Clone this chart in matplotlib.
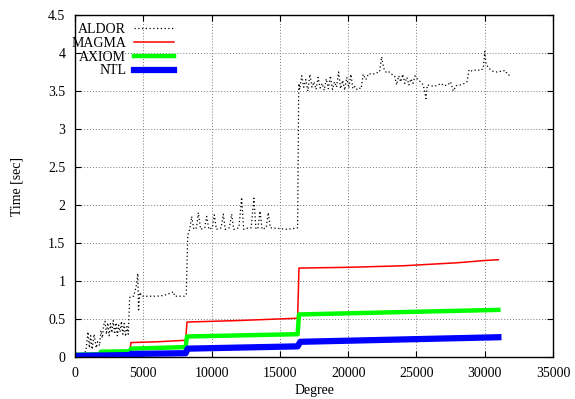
import matplotlib
matplotlib.use("Agg")
import matplotlib.pyplot as plt

# ---- data ----
aldor_x = [0, 300, 600, 800, 950, 1050, 1150, 1250, 1400, 1550, 1650, 1800, 1900, 2000,
           2100, 2200, 2300, 2400, 2500, 2600, 2700, 2800, 2900, 3000, 3100, 3200, 3300,
           3400, 3500, 3600, 3700, 3800, 3900, 4000, 4100, 4300, 4500, 4600, 4650, 4750,
           4900, 5500, 6000, 6500, 7000, 7200, 7300, 8000, 8150, 8250, 8400, 8540, 8700,
           8900, 9030, 9200, 9500, 9640, 9800, 10050, 10200, 10350, 10700, 10860, 11000,
           11300, 11470, 11620, 12000, 12200, 12350, 12700, 12900, 13100, 13250, 13400,
           13550, 13700, 14000, 14150, 14300, 15000, 15500, 16000, 16300, 16384,
           16450, 16600, 16750, 16900, 17050, 17200, 17350, 17500, 17650, 17800, 17950,
           18100, 18250, 18400, 18550, 18700, 18850, 19000, 19150, 19300, 19450, 19600,
           19750, 19900, 20050, 20200, 20350, 20500, 20650, 20800, 20950, 21100, 21300,
           21500, 21800, 22100, 22300, 22450, 22600, 22800, 23000, 23200, 23400, 23550,
           23700, 23850, 24000, 24150, 24300, 24450, 24600, 24750, 24900, 25100, 25300,
           25500, 25700, 25800, 26000, 26300, 26600, 26800, 27000, 27300, 27500, 27700,
           27900, 28200, 28500, 28700, 28850, 29100, 29400, 29700, 29900, 30000, 30100,
           30300, 30600, 30900, 31200, 31500, 31650, 31900]
aldor_y = [0.01, 0.02, 0.03, 0.08, 0.33, 0.12, 0.28, 0.10, 0.30, 0.12, 0.20, 0.15, 0.35, 0.25,
           0.42, 0.47, 0.30, 0.45, 0.28, 0.44, 0.32, 0.48, 0.30, 0.45, 0.28, 0.42, 0.33,
           0.47, 0.30, 0.44, 0.27, 0.40, 0.30, 0.78, 0.80, 0.80, 0.95, 1.10, 0.60, 0.85,
           0.80, 0.80, 0.80, 0.81, 0.84, 0.86, 0.80, 0.80, 0.82, 1.60, 1.68, 1.85, 1.68,
           1.70, 1.90, 1.68, 1.70, 1.85, 1.68, 1.70, 1.87, 1.68, 1.70, 1.88, 1.68,
           1.70, 1.88, 1.68, 1.70, 2.10, 1.68, 1.70, 1.70, 2.09, 1.68, 1.70,
           1.92, 1.68, 1.70, 1.90, 1.70, 1.69, 1.68, 1.69, 1.70, 3.60,
           3.52, 3.70, 3.55, 3.65, 3.50, 3.72, 3.55, 3.62, 3.52, 3.68, 3.54,
           3.60, 3.51, 3.66, 3.53, 3.70, 3.52, 3.62, 3.55, 3.75, 3.53, 3.64,
           3.51, 3.68, 3.54, 3.72, 3.53, 3.56, 3.52, 3.54, 3.53, 3.72, 3.65,
           3.73, 3.72, 3.74, 3.75, 3.95, 3.80, 3.74, 3.75, 3.72, 3.70, 3.58,
           3.70, 3.62, 3.72, 3.60, 3.68, 3.58, 3.66, 3.60, 3.70, 3.65, 3.62,
           3.58, 3.40, 3.58, 3.57, 3.56, 3.58, 3.60, 3.57, 3.58, 3.62, 3.50,
           3.57, 3.58, 3.60, 3.62, 3.78, 3.76, 3.78, 3.77, 3.80, 4.02, 3.85,
           3.80, 3.76, 3.75, 3.76, 3.77, 3.72, 3.70]

magma_x = [0, 2000, 4000, 4100, 6000, 8100, 8200, 12000, 16300, 16400, 20000, 24000, 26000, 28000, 30000, 31000]
magma_y = [0.04, 0.045, 0.05, 0.19, 0.20, 0.22, 0.46, 0.48, 0.51, 1.17, 1.18, 1.20, 1.22, 1.24, 1.27, 1.28]

axiom_x = [0, 1800, 1900, 4000, 4100, 8100, 8200, 16300, 16400, 31000]
axiom_y = [0.03, 0.035, 0.07, 0.075, 0.11, 0.13, 0.27, 0.30, 0.56, 0.62]

ntl_x = [0, 4000, 4100, 8100, 8250, 16300, 16500, 31000]
ntl_y = [0.015, 0.025, 0.04, 0.05, 0.11, 0.14, 0.20, 0.26]

xticks = [0, 5000, 10000, 15000, 20000, 25000, 30000, 35000]
yticks = [0, 0.5, 1, 1.5, 2, 2.5, 3, 3.5, 4, 4.5]
ytick_labels = ["0", "0.5", "1", "1.5", "2", "2.5", "3", "3.5", "4", "4.5"]

plt.rcParams['font.family'] = ['Liberation Serif', 'DejaVu Serif']
plt.rcParams['font.size'] = 10

fig = plt.figure(figsize=(5.75, 3.99), dpi=100)
ax = fig.add_axes([75/575, 42/399, 478/575, 342/399])

ax.plot(aldor_x, aldor_y, color='black', lw=0.9, ls=(0, (1, 2)), label='ALDOR')
ax.plot(magma_x, magma_y, color='#ff0000', lw=1.1, label='MAGMA')
ax.plot(axiom_x, axiom_y, color='#00ff00', lw=3.2, label='AXIOM')
ax.plot(ntl_x, ntl_y, color='#0000ff', lw=4.5, label='NTL')

ax.set_xlim(0, 35000)
ax.set_ylim(0, 4.5)
ax.set_xticks(xticks)
ax.set_xticklabels([str(t) for t in xticks])
ax.set_yticks(yticks)
ax.set_yticklabels(ytick_labels)
ax.grid(True, color='#777777', ls=(0, (1, 2)), lw=0.7)
ax.tick_params(direction='in', top=True, right=True, length=4, width=0.8, pad=7)
for s in ax.spines.values():
    s.set_linewidth(1.0)

ax.set_xlabel('Degree', labelpad=3)
ax.set_ylabel('Time [sec]', labelpad=18)

leg = ax.legend(loc='upper left', bbox_to_anchor=(-0.025, 1.0), frameon=False,
                markerfirst=False, handlelength=2.9, handletextpad=0.55,
                labelspacing=0.05, borderaxespad=0.2)
for t in leg.get_texts():
    t.set_ha('right')
leg._legend_box.align = "right"

fig.savefig('out.png', dpi=100)
